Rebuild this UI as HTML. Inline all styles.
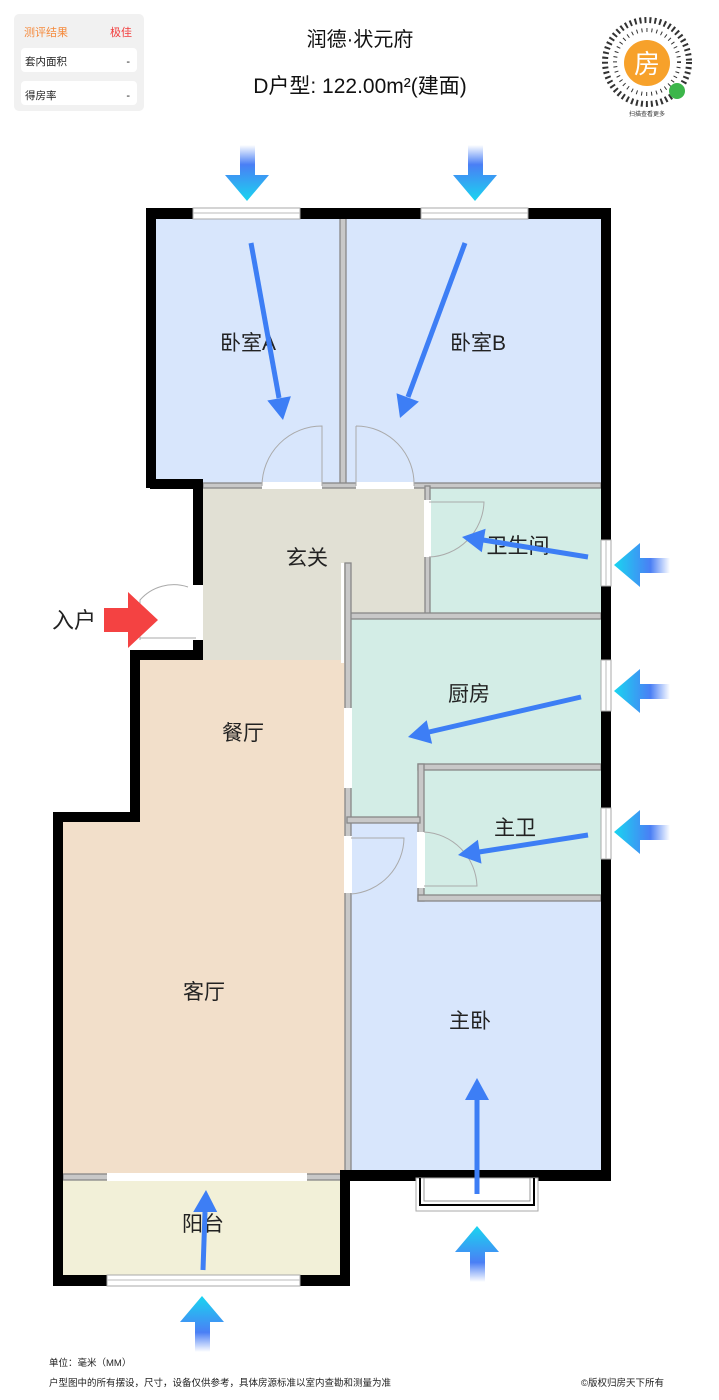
<!DOCTYPE html>
<html><head><meta charset="utf-8"><style>
body{margin:0;width:719px;height:1400px;background:#fff;overflow:hidden;font-family:"Liberation Sans","Noto Sans CJK SC",sans-serif}
svg{position:absolute;left:0;top:0}
</style></head><body>
<svg width="719" height="1400" viewBox="0 0 719 1400" font-family="Liberation Sans, Noto Sans CJK SC, sans-serif">
<defs>
<linearGradient id="gd" x1="0" y1="0" x2="0" y2="1"><stop offset="0" stop-color="#fff"/><stop offset="0.35" stop-color="#4a7ff5"/><stop offset="1" stop-color="#19d5f0"/></linearGradient>
<linearGradient id="gu" x1="0" y1="1" x2="0" y2="0"><stop offset="0" stop-color="#fff"/><stop offset="0.35" stop-color="#4a7ff5"/><stop offset="1" stop-color="#19d5f0"/></linearGradient>
<linearGradient id="gl" x1="1" y1="0" x2="0" y2="0"><stop offset="0" stop-color="#fff"/><stop offset="0.35" stop-color="#4a7ff5"/><stop offset="1" stop-color="#19d5f0"/></linearGradient>
</defs>
<!-- header card -->
<rect x="14" y="14" width="130" height="97" rx="5" fill="#f1f1f1"/>
<text x="24" y="36" font-size="11" fill="#f58a3c">测评结果</text>
<text x="132" y="36" font-size="11" fill="#f23c3c" text-anchor="end">极佳</text>
<rect x="21" y="48" width="116" height="24" rx="4" fill="#fff"/>
<text x="25" y="65" font-size="10.5" fill="#222">套内面积</text><text x="130" y="65" font-size="11" fill="#222" text-anchor="end">-</text>
<rect x="21" y="81" width="116" height="24" rx="4" fill="#fff"/>
<text x="25" y="99" font-size="10.5" fill="#222">得房率</text><text x="130" y="99" font-size="11" fill="#222" text-anchor="end">-</text>
<text x="360" y="46" font-size="20" fill="#111" text-anchor="middle">润德·状元府</text>
<text x="360" y="93" font-size="21" fill="#111" text-anchor="middle">D户型: 122.00m²(建面)</text>
<!-- QR -->
<circle cx="647" cy="62" r="42" fill="none" stroke="#333" stroke-width="6" stroke-dasharray="2 3"/>
<circle cx="647" cy="62" r="32" fill="none" stroke="#333" stroke-width="4" stroke-dasharray="1 4"/>
<circle cx="647" cy="63" r="23" fill="#f7a12a"/>
<text x="647" y="73" font-size="26" fill="#fff" text-anchor="middle">房</text>
<circle cx="677" cy="91" r="8" fill="#3cb64a"/>
<text x="647" y="116" font-size="6" fill="#333" text-anchor="middle">扫描查看更多</text>
<!-- room fills -->
<g>
<rect x="155" y="218" width="188" height="266" fill="#d8e6fc"/>
<rect x="343" y="218" width="258" height="266" fill="#d8e6fc"/>
<rect x="203" y="486" width="225" height="174" fill="#e1e0d4"/>
<rect x="428" y="486" width="173" height="130" fill="#d3ede6"/>
<rect x="349" y="616" width="252" height="204" fill="#d3ede6"/>
<rect x="422" y="766" width="179" height="133" fill="#d3ede6"/>
<rect x="140" y="660" width="207" height="162" fill="#f2dfca"/>
<rect x="63" y="820" width="284" height="356" fill="#f2dfca"/>
<rect x="349" y="820" width="73" height="80" fill="#d8e6fc"/>
<rect x="349" y="899" width="252" height="274" fill="#d8e6fc"/>
<rect x="63" y="1178" width="279" height="99" fill="#f2f0d8"/>
</g>
<!-- interior walls -->
<g fill="#c8c8c8" stroke="#888" stroke-width="1.3">
<rect x="340" y="218" width="6" height="268"/>
<rect x="203" y="483" width="398" height="5"/>
<rect x="425" y="486" width="5" height="130"/>
<rect x="347" y="613" width="254" height="6"/>
<rect x="345" y="563" width="6" height="612"/>
<rect x="418" y="764" width="183" height="6"/>
<rect x="418" y="764" width="6" height="137"/>
<rect x="418" y="895" width="183" height="6"/>
<rect x="347" y="817" width="73" height="6"/>
<rect x="63" y="1174" width="279" height="6"/>
</g>
<!-- openings -->
<g fill="#fff">
<rect x="262" y="482" width="60" height="7"/><rect x="356" y="482" width="58" height="7"/>
<rect x="424" y="500" width="7" height="57"/>
<rect x="344" y="708" width="8" height="80"/>
<rect x="344" y="836" width="8" height="57"/>
<rect x="417" y="832" width="8" height="56"/>
<rect x="107" y="1173" width="200" height="8"/>
<rect x="341" y="563" width="3" height="100"/>
</g>
<!-- doors -->
<g fill="none" stroke="#aaa" stroke-width="1">
<path d="M262,486 A60,60 0 0 1 322,426 V486"/>
<path d="M356,426 A58,58 0 0 1 414,486 M356,426 V486"/>
<path d="M429,557 A57,57 0 0 0 484,502 H429"/>
<path d="M351,894 A57,57 0 0 0 404,838 H351"/>
<path d="M424,832 A56,56 0 0 1 477,886 H424"/>
<path d="M140,640 V600 A45,45 0 0 1 188,587 M140,638 H196"/>
</g>
<!-- outer walls -->
<g fill="#000">
<rect x="146" y="208" width="465" height="11"/>
<rect x="146" y="208" width="10" height="280"/>
<rect x="150" y="479" width="53" height="10"/>
<rect x="193" y="479" width="10" height="106"/>
<rect x="193" y="640" width="10" height="20"/>
<rect x="130" y="650" width="73" height="10"/>
<rect x="130" y="650" width="10" height="172"/>
<rect x="53" y="812" width="87" height="10"/>
<rect x="53" y="812" width="10" height="473"/>
<rect x="53" y="1275" width="297" height="11"/>
<rect x="340" y="1175" width="10" height="111"/>
<rect x="340" y="1170" width="271" height="11"/>
<rect x="601" y="208" width="10" height="973"/>
</g>
<!-- windows -->
<g fill="#fff" stroke="#aaa" stroke-width="1">
<rect x="193" y="208" width="107" height="11"/><rect x="421" y="208" width="107" height="11"/>
<rect x="601" y="540" width="10" height="46"/><rect x="601" y="660" width="10" height="51"/><rect x="601" y="808" width="10" height="51"/>
<rect x="107" y="1275" width="193" height="11"/>
</g>
<g stroke="#bbb" stroke-width="1">
<line x1="193" y1="213" x2="300" y2="213"/><line x1="421" y1="213" x2="528" y2="213"/>
<line x1="606" y1="540" x2="606" y2="586"/><line x1="606" y1="660" x2="606" y2="711"/><line x1="606" y1="808" x2="606" y2="859"/>
<line x1="107" y1="1280" x2="300" y2="1280"/>
</g>
<!-- bay -->
<rect x="416" y="1178" width="122" height="33" fill="#fff" stroke="#aaa"/>
<path d="M420,1178 V1205 H534 V1178" fill="none" stroke="#000" stroke-width="2"/>
<path d="M424,1178 V1201 H530 V1178" fill="none" stroke="#999" stroke-width="1"/>
<!-- labels -->
<g font-size="21" fill="#222" text-anchor="middle">
<text x="248" y="350">卧室A</text><text x="478" y="350">卧室B</text>
<text x="307" y="565">玄关</text><text x="518" y="553">卫生间</text>
<text x="469" y="701">厨房</text><text x="243" y="740">餐厅</text>
<text x="515" y="835">主卫</text><text x="204" y="999">客厅</text>
<text x="470" y="1028">主卧</text><text x="203" y="1231">阳台</text>
<text x="74" y="628" font-size="22">入户</text>
</g>
<!-- inner blue arrows -->
<g stroke="#3d7ef5" stroke-width="5" fill="#3d7ef5">
<line x1="251" y1="243" x2="279" y2="398"/><path d="M283,420 L267.3,400.5 L290.9,396.3Z" stroke="none"/>
<line x1="465" y1="243" x2="408" y2="397"/><path d="M400,418 L418.9,401.6 L396.5,393.2Z" stroke="none"/>
<line x1="588" y1="557" x2="483" y2="540"/><path d="M462,537 L485.6,528.7 L481.8,552.3Z" stroke="none"/>
<line x1="581" y1="697" x2="429" y2="732"/><path d="M408,737 L432.1,743.7 L426.7,720.3Z" stroke="none"/>
<line x1="588" y1="835" x2="479" y2="852"/><path d="M458,855 L481.5,863.6 L477.9,839.8Z" stroke="none"/>
<line x1="477" y1="1194" x2="477" y2="1100"/><path d="M477,1078 L465,1100 L489,1100Z" stroke="none"/>
<line x1="203" y1="1270" x2="205" y2="1212"/><path d="M206,1190 L193.2,1212 L217.2,1212Z" stroke="none"/>
</g>
<!-- red entrance arrow -->
<path d="M104,608 H128 V592 L158,620 L128,648 V632 H104Z" fill="#f44242"/>
<!-- outside gradient arrows -->
<path d="M240,145 h15 v30 h14 l-22,26 l-22,-26 h15z" fill="url(#gd)"/>
<path d="M468,145 h15 v30 h14 l-22,26 l-22,-26 h15z" fill="url(#gd)"/>
<path d="M670,558 v15 h-30 v14 l-26,-22 l26,-22 v15z" fill="url(#gl)"/>
<path d="M670,684 v15 h-30 v14 l-26,-22 l26,-22 v15z" fill="url(#gl)"/>
<path d="M670,825 v15 h-30 v14 l-26,-22 l26,-22 v15z" fill="url(#gl)"/>
<path d="M470,1282 h15 v-30 h14 l-22,-26 l-22,26 h15z" fill="url(#gu)"/>
<path d="M195,1352 h15 v-30 h14 l-22,-26 l-22,26 h15z" fill="url(#gu)"/>
<!-- footer -->
<text x="49" y="1366" font-size="9.5" fill="#222">单位：毫米（MM）</text>
<text x="49" y="1386" font-size="9.5" fill="#222">户型图中的所有摆设，尺寸，设备仅供参考，具体房源标准以室内查勘和测量为准</text>
<text x="664" y="1386" font-size="9.5" fill="#222" text-anchor="end">©版权归房天下所有</text>
</svg>
</body></html>
